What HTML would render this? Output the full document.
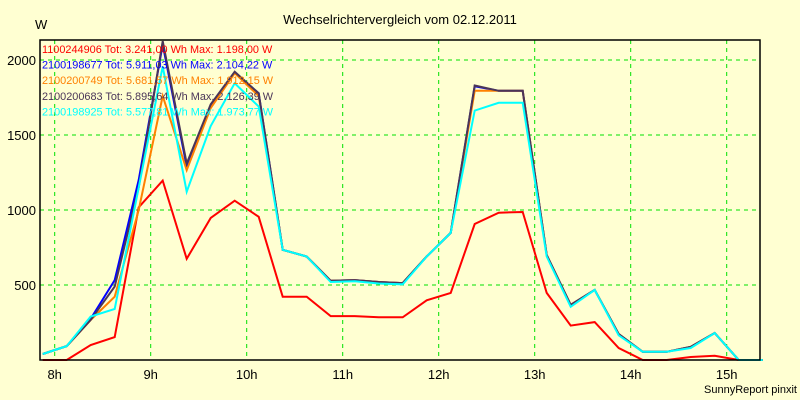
<!DOCTYPE html>
<html><head><meta charset="utf-8"><style>
html,body{margin:0;padding:0;background:#ffffd2;}
svg{display:block;font-family:"Liberation Sans",sans-serif;}
</style></head><body>
<svg id="chart" width="800" height="400" viewBox="0 0 800 400">
<rect x="0" y="0" width="800" height="400" fill="#ffffd2"/>
<text x="400" y="24" text-anchor="middle" font-size="13" fill="#000">Wechselrichtervergleich vom 02.12.2011</text>
<text x="35" y="29" font-size="13" fill="#000">W</text>
<g id="grid"></g>
<g id="series"></g>
<rect x="40" y="40" width="720" height="320" fill="none" stroke="#000" stroke-width="1.5"/>
<g id="legend"></g>
<g id="axes"></g>
<text x="797" y="393" text-anchor="end" font-size="11" fill="#000">SunnyReport pinxit</text>
</svg>
<script>
const hourTicks = [8, 9, 10, 11, 12, 13, 14, 15];
const hourLabels = ["8h", "9h", "10h", "11h", "12h", "13h", "14h", "15h"];
const yTicks = [500, 1000, 1500, 2000];
const yTickLabels = ["500", "1000", "1500", "2000"];
const times = [7.875,8.125,8.375,8.625,8.875,9.125,9.375,9.625,9.875,10.125,10.375,10.625,10.875,11.125,11.375,11.625,11.875,12.125,12.375,12.625,12.875,13.125,13.375,13.625,13.875,14.125,14.375,14.625,14.875,15.125,15.375];
const seriesNames = ["1100244906 Tot: 3.241,00 Wh Max: 1.198,00 W","2100198677 Tot: 5.911,03 Wh Max: 2.104,22 W","2100200749 Tot: 5.681,57 Wh Max: 1.912,15 W","2100200683 Tot: 5.895,64 Wh Max: 2.126,39 W","2100198925 Tot: 5.577,81 Wh Max: 1.973,77 W"];
const seriesColors = ["#ff0000","#0000ff","#ff8000","#4a3558","#00ffff"];
const redValues    = [0,0,100,153,1018,1196,675,947,1062,955,422,422,293,293,285,285,398,447,907,982,987,447,229,253,80,0,0,20,28,0,0];
const blueValues   = [40,93,275,533,1200,2104,1290,1700,1915,1778,735,690,528,533,520,513,690,847,1825,1795,1795,700,367,467,173,55,55,87,180,0,0];
const orangeValues = [40,93,267,422,1000,1760,1266,1680,1912,1760,735,690,528,533,520,513,690,847,1795,1795,1795,700,367,467,173,55,55,87,180,0,0];
const darkValues   = [40,93,267,489,1150,2126,1310,1704,1922,1778,735,690,528,533,520,513,690,847,1830,1795,1795,700,367,467,173,55,55,87,180,0,0];
const cyanValues   = [40,93,290,340,1150,1957,1122,1560,1845,1690,735,690,520,525,510,505,690,847,1663,1715,1715,690,355,467,165,55,55,80,180,0,0];
const allSeries = [redValues, blueValues, orangeValues, darkValues, cyanValues];
const seriesKeys = ["red","blue","orange","dark","cyan"];

const NS = "http://www.w3.org/2000/svg";
function xScale(h){ return 54.7 + (h - 8) * 96; }
function yScale(v){ return 360 - v * 0.15; }

const grid = document.getElementById("grid");
const axes = document.getElementById("axes");
hourTicks.forEach((h, i) => {
  const l = document.createElementNS(NS, "line");
  l.setAttribute("x1", xScale(h)); l.setAttribute("x2", xScale(h));
  l.setAttribute("y1", 40); l.setAttribute("y2", 360);
  l.setAttribute("stroke", "#00e000"); l.setAttribute("stroke-dasharray", "4,4");
  
  
  grid.appendChild(l);
  const t = document.createElementNS(NS, "text");
  t.setAttribute("x", xScale(h)); t.setAttribute("y", 379);
  t.setAttribute("text-anchor", "middle"); t.setAttribute("font-size", "13");
  t.textContent = hourLabels[i];
  
  
  axes.appendChild(t);
});
yTicks.forEach((v, i) => {
  const l = document.createElementNS(NS, "line");
  l.setAttribute("x1", 40); l.setAttribute("x2", 760);
  l.setAttribute("y1", yScale(v)); l.setAttribute("y2", yScale(v));
  l.setAttribute("stroke", "#00e000"); l.setAttribute("stroke-dasharray", "4,4");
  
  
  grid.appendChild(l);
  const t = document.createElementNS(NS, "text");
  t.setAttribute("x", 36); t.setAttribute("y", yScale(v) + 5);
  t.setAttribute("text-anchor", "end"); t.setAttribute("font-size", "13");
  t.textContent = yTickLabels[i];
  
  
  axes.appendChild(t);
});
const sg = document.getElementById("series");
allSeries.forEach((vals, s) => {
  const p = document.createElementNS(NS, "polyline");
  p.setAttribute("points", vals.map((v, i) => xScale(times[i]).toFixed(1) + "," + yScale(v).toFixed(1)).join(" "));
  p.setAttribute("fill", "none"); p.setAttribute("stroke", seriesColors[s]);
  p.setAttribute("stroke-width", "2"); p.setAttribute("stroke-linejoin", "miter");
  
  
  sg.appendChild(p);
});
const lg = document.getElementById("legend");
seriesNames.forEach((n, s) => {
  const t = document.createElementNS(NS, "text");
  t.setAttribute("x", 42); t.setAttribute("y", 53 + s * 15.6);
  t.setAttribute("font-size", "10.9"); t.setAttribute("fill", seriesColors[s]);
  t.textContent = n;
  
  
  lg.appendChild(t);
});
</script>
</body></html>
